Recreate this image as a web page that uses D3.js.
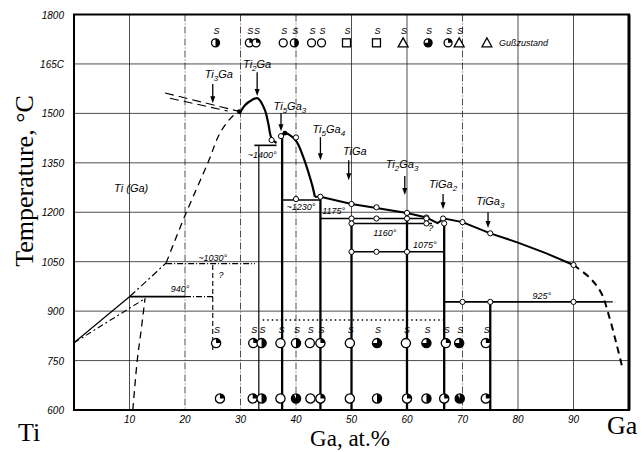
<!DOCTYPE html>
<html>
<head>
<meta charset="utf-8">
<script src="https://cdn.jsdelivr.net/npm/d3@7"></script>
<style>
  body { margin: 0; background: #fff; }
  svg { display: block; }
  .tick-label { font-family: "Liberation Sans", sans-serif; font-style: italic; font-size: 10px; }
  .note { font-family: "Liberation Sans", sans-serif; font-style: italic; font-size: 9px; }
  .phase { font-family: "Liberation Sans", sans-serif; font-style: italic; font-size: 11px; }
  .title { font-family: "Liberation Serif", "Times New Roman", serif; }
</style>
</head>
<body>
<div id="chart"></div>
<script>
// axis ticks
var gaTicks = [10, 20, 30, 40, 50, 60, 70, 80, 90];
var tempTicks = [600, 750, 900, 1050, 1200, 1350, 1500, 1650, 1800];
var tempLabels = ["600", "750", "900", "1050", "1200", "1350", "1500", "165C", "1800"];

// liquidus / phase boundaries, [Ga at.%, T °C]
var liqTi2Ga = [[30,1505],[30.8,1525],[32,1540],[33.1,1546],[34.4,1510],[35,1470],[35.6,1424],[36.5,1410]];
var liqTi5Ga3 = [[37.3,1431],[38,1440],[38.9,1434],[40.1,1414],[41.3,1368],[42.2,1323],[43,1277],[43.4,1247]];
var liqGaSide = [[43.4,1247],[44.4,1247],[50,1225],[54.5,1213],[60,1198],[63.5,1184],[65.5,1167],[66.7,1181],[70,1170],[75,1136],[80,1108],[85,1076],[90,1040]];
var liqGaEnd = [[90,1040],[93,1000],[95,955],[96.6,873],[97.8,797],[98.7,736]];
var betaUpper = [[16.6,1046],[20,1190],[24.2,1353],[26.3,1440],[28.5,1490],[30,1505]];
var betaLower = [[10.1,945],[16.6,1046]];
var transusA = [[0,804],[10.1,945]];
var transusB = [[0,804],[12.8,938]];
var alphaEdge = [[10.6,600],[11.4,751],[12.1,842],[12.8,939]];
var topDashA = [[16.4,1562],[30,1505]];
var topDashB = [[17.3,1546],[27.7,1507]];

// isotherms: [Ga from, Ga to, T]
var isoSolid = [[10.1,20,944],[32.5,36.5,1403],[37.5,44.4,1237],[44.4,63.5,1181],[50,64.5,1166],[50,66.7,1080],[66.7,96,928]];
var isoDashDot = [[20,25.3,944],[16.6,32.6,1044],[96,97.5,928]];
var isoDotted = [[34,66.7,873]];

// compound lines: [Ga, T top, T bottom]
var compThick = [[37.5,1431,600],[44.4,1247,600],[50,1181,600],[60,1198,600],[66.7,1181,600],[75,928,600]];
var compThin = [[33.3,1403,600]];
var compDashed = [[25,1040,780]];

// measured points on the lines
var lineDots = [[35.6,1419],[37.3,1431],[40,1427],[40,1240],[44.4,1247],[50,1225],[54.5,1215],[60,1198],[63.5,1184],[66.5,1181],[70,1170],[75,1136],[90,1040],
  [50,1181],[54.5,1181],[60,1181],[63.5,1181],[50,1166],[63.5,1166],[66.7,1166],[50,1080],[54.5,1080],[60,1080],[70,928],[75,928],[90,928]];
var peakDots = [[38,1440],[29.8,1505]];

// specimen rows
var topGa = [25.5,31.6,32.8,37.7,39.7,42.8,44.6,49.1,54.5,59.3,63.8,67.4,69.4];
var topKind = ["h","q","q","o","h","o","o","sq","sq","tri","f","q","tri"];
var topT = 1714;
var midGa = [25.6,32.3,33.8,37.2,40,42.5,44.4,49.7,54.6,59.8,63.5,67,69.4,74.2];
var midKind = ["q","q","h","o","h","o","q","o","f","o","f","q","f","q"];
var midT = 803;
var botGa = [26.3,32.2,33.8,37.2,40,42.6,44.4,49.7,54.6,60,63.5,66.7,69.5,74.2];
var botKind = ["q","q","h","o","F","o","q","o","h","q","h","q","F","q"];
var botT = 635;

// phase labels with arrows
var phaseName = [["Ti","3","Ga",""],["Ti","2","Ga",""],["Ti","5","Ga","3"],["Ti","5","Ga","4"],["TiGa","","",""],["Ti","2","Ga","3"],["TiGa","","","2"],["TiGa","","","3"]];
var phaseGa = [26.1, 33, 38.9, 45.9, 50.6, 59.1, 66.5, 75];
var phaseT = [1607, 1638, 1510, 1440, 1373, 1334, 1273, 1222];
var arrowGa = [25, 33, 37.3, 44.4, 49.5, 59.6, 66.5, 74.6];
var arrowFrom = [1589, 1625, 1501, 1428, 1358, 1310, 1255, 1200];
var arrowTo = [1531, 1553, 1446, 1358, 1297, 1252, 1209, 1152];

// temperature notes
var noteText = ["~1400°", "~1230°", "1175°", "1160°", "1075°", "925°", "940°", "~1030°", "?", "?"];
var noteGa = [33.9, 40.9, 46.8, 56, 63.2, 84.3, 19.1, 25, 64.3, 26.5];
var noteT = [1364, 1206, 1194, 1127, 1091, 936, 958, 1052, 1143, 1000];

var W = 644, H = 452;
var svg = d3.select("#chart").append("svg")
  .attr("width", W).attr("height", H);

var x = d3.scaleLinear().domain([0, 100]).range([74, 629]);
var y = d3.scaleLinear().domain([600, 1800]).range([410, 14.5]);

// grid
var grid = svg.append("g").attr("stroke", "#222").attr("stroke-width", 0.8);
grid.selectAll("line.v").data(gaTicks).enter().append("line")
  .attr("x1", function(d) { return x(d); }).attr("x2", function(d) { return x(d); })
  .attr("y1", y(1800)).attr("y2", y(600))
  .attr("stroke-dasharray", function(d) { return (d == 20 || d == 30 || d == 40 || d == 70) ? "7,2,1,2" : null; });
grid.selectAll("line.h").data(tempTicks.slice(1, -1)).enter().append("line")
  .attr("x1", x(0)).attr("x2", x(100))
  .attr("y1", function(d) { return y(d); }).attr("y2", function(d) { return y(d); });

// frame
svg.append("rect")
  .attr("x", x(0)).attr("y", y(1800))
  .attr("width", x(100) - x(0)).attr("height", y(600) - y(1800))
  .attr("fill", "none").attr("stroke", "#000").attr("stroke-width", 2);
svg.append("line").attr("x1", x(100)).attr("x2", x(100)).attr("y1", y(1800)).attr("y2", y(600))
  .attr("stroke", "#000").attr("stroke-width", 3);

// tick labels
svg.selectAll("text.yt").data(tempTicks).enter().append("text")
  .attr("class", "tick-label")
  .attr("x", x(0) - 10).attr("y", function(d) { return y(d) + 4; })
  .attr("text-anchor", "end")
  .text(function(d, i) { return tempLabels[i]; });
svg.selectAll("text.xt").data(gaTicks).enter().append("text")
  .attr("class", "tick-label")
  .attr("x", function(d) { return x(d); }).attr("y", 423)
  .attr("text-anchor", "middle")
  .text(function(d) { return d; });

var line = d3.line().x(function(d) { return x(d[0]); }).y(function(d) { return y(d[1]); });
var curve = d3.line().x(function(d) { return x(d[0]); }).y(function(d) { return y(d[1]); }).curve(d3.curveCatmullRom);

function path(data, gen, width, dash) {
  svg.append("path").datum(data)
    .attr("d", gen)
    .attr("fill", "none").attr("stroke", "#000")
    .attr("stroke-width", width)
    .attr("stroke-dasharray", dash || null);
}

path(liqTi2Ga, curve, 2.2);
path(liqTi5Ga3, curve, 2.2);
path(liqGaSide, line, 2);
path(liqGaEnd, curve, 2, "7,5");
path(betaUpper, curve, 1.3, "7,5");
path(betaLower, line, 1.2, "7,3,2,3");
path(transusA, line, 1.2);
path(transusB, line, 1.1, "6,3,2,3");
path(alphaEdge, curve, 1.3, "7,5");
path(topDashA, line, 1.1, "9,5");
path(topDashB, line, 1.1, "9,5");

// isotherms
svg.selectAll("line.iso").data(isoSolid).enter().append("line")
  .attr("x1", function(d) { return x(d[0]); }).attr("x2", function(d) { return x(d[1]); })
  .attr("y1", function(d) { return y(d[2]); }).attr("y2", function(d) { return y(d[2]); })
  .attr("stroke", "#000").attr("stroke-width", 1.6);
svg.selectAll("line.isodd").data(isoDashDot).enter().append("line")
  .attr("x1", function(d) { return x(d[0]); }).attr("x2", function(d) { return x(d[1]); })
  .attr("y1", function(d) { return y(d[2]); }).attr("y2", function(d) { return y(d[2]); })
  .attr("stroke", "#000").attr("stroke-width", 1.1).attr("stroke-dasharray", "6,2,1,2");
svg.selectAll("line.isodot").data(isoDotted).enter().append("line")
  .attr("x1", function(d) { return x(d[0]); }).attr("x2", function(d) { return x(d[1]); })
  .attr("y1", function(d) { return y(d[2]); }).attr("y2", function(d) { return y(d[2]); })
  .attr("stroke", "#000").attr("stroke-width", 1.4).attr("stroke-dasharray", "1.5,3");

// compound verticals
function verticals(data, width, dash) {
  svg.append("g").selectAll("line").data(data).enter().append("line")
    .attr("x1", function(d) { return x(d[0]); }).attr("x2", function(d) { return x(d[0]); })
    .attr("y1", function(d) { return y(d[1]); }).attr("y2", function(d) { return y(d[2]); })
    .attr("stroke", "#000").attr("stroke-width", width)
    .attr("stroke-dasharray", dash || null);
}
verticals(compThick, 2.3);
verticals(compThin, 1.2);
verticals(compDashed, 1.1, "5,3");

// points on lines
svg.selectAll("circle.dot").data(lineDots).enter().append("circle")
  .attr("cx", function(d) { return x(d[0]); }).attr("cy", function(d) { return y(d[1]); })
  .attr("r", 2.6).attr("fill", "#fff").attr("stroke", "#000").attr("stroke-width", 1);
svg.selectAll("circle.peak").data(peakDots).enter().append("circle")
  .attr("cx", function(d) { return x(d[0]); }).attr("cy", function(d) { return y(d[1]); })
  .attr("r", 2.4).attr("fill", "#000");

// specimen symbols
var arc = d3.arc().innerRadius(0);
var share = { q: Math.PI / 2, h: Math.PI, f: Math.PI * 1.5, F: Math.PI * 1.85 };
function specimens(gas, kinds, t, r, withS) {
  var g = svg.append("g");
  gas.forEach(function(ga, i) {
    var cx = x(ga), cy = y(t), k = kinds[i];
    var s = g.append("g").attr("transform", "translate(" + cx + "," + cy + ")");
    if (k == "sq") {
      s.append("rect").attr("x", -r).attr("y", -r).attr("width", 2 * r).attr("height", 2 * r)
        .attr("fill", "#fff").attr("stroke", "#000").attr("stroke-width", 1.3);
    } else if (k == "tri") {
      s.append("path").attr("d", "M0," + (-r - 1) + "L" + (r + 1) + "," + r + "L" + (-r - 1) + "," + r + "Z")
        .attr("fill", "#fff").attr("stroke", "#000").attr("stroke-width", 1.3);
    } else {
      s.append("circle").attr("r", r).attr("fill", "#fff").attr("stroke", "#000").attr("stroke-width", 1.3);
      if (share[k]) {
        s.append("path").attr("d", arc({ outerRadius: r, startAngle: 0, endAngle: share[k] })).attr("fill", "#000");
      }
    }
    if (withS) {
      g.append("text").attr("class", "note").attr("x", cx + 1).attr("y", cy - r - 5)
        .attr("text-anchor", "middle").text("S");
    }
  });
}
specimens(topGa, topKind, topT, 4, true);
specimens(midGa, midKind, midT, 4.6, true);
specimens(botGa, botKind, botT, 4.6, false);

// legend
var lg = svg.append("g").attr("transform", "translate(" + x(74.4) + "," + y(topT) + ")");
lg.append("path").attr("d", "M0,-5L5,4L-5,4Z").attr("fill", "#fff").attr("stroke", "#000").attr("stroke-width", 1.2);
lg.append("text").attr("class", "note").attr("x", 12).attr("y", 3).text("Gußzustand");

// phase labels and arrows
phaseName.forEach(function(p, i) {
  var t = svg.append("text").attr("class", "phase")
    .attr("x", x(phaseGa[i])).attr("y", y(phaseT[i])).attr("text-anchor", "middle");
  t.append("tspan").text(p[0]);
  if (p[1]) t.append("tspan").attr("dy", 3).attr("font-size", "8px").text(p[1]);
  if (p[2]) t.append("tspan").attr("dy", p[1] ? -3 : 0).text(p[2]);
  if (p[3]) t.append("tspan").attr("dy", 3).attr("font-size", "8px").text(p[3]);

  var ax = x(arrowGa[i]), y0 = y(arrowFrom[i]), y1 = y(arrowTo[i]);
  svg.append("line").attr("x1", ax).attr("x2", ax).attr("y1", y0).attr("y2", y1 - 5)
    .attr("stroke", "#000").attr("stroke-width", 1.3);
  svg.append("path").attr("d", "M" + (ax - 2.5) + "," + (y1 - 7) + "L" + (ax + 2.5) + "," + (y1 - 7) + "L" + ax + "," + y1 + "Z")
    .attr("fill", "#000");
});

svg.append("text").attr("class", "phase").attr("x", x(10.3)).attr("y", y(1261))
  .attr("text-anchor", "middle").text("Ti (Ga)");

// temperature notes
noteText.forEach(function(n, i) {
  svg.append("text").attr("class", "note")
    .attr("x", x(noteGa[i])).attr("y", y(noteT[i]))
    .attr("text-anchor", "middle").text(n);
});

// titles
svg.append("text").attr("class", "title")
  .attr("transform", "translate(33,181) rotate(-90)")
  .attr("text-anchor", "middle").attr("font-size", "26px")
  .text("Temperature, °C");
svg.append("text").attr("class", "title")
  .attr("x", 350).attr("y", 446).attr("text-anchor", "middle").attr("font-size", "23px")
  .text("Ga, at.%");
svg.append("text").attr("class", "title")
  .attr("x", 18).attr("y", 441).attr("font-size", "26px").text("Ti");
svg.append("text").attr("class", "title")
  .attr("x", 607).attr("y", 434).attr("font-size", "26px").text("Ga");
</script>
</body>
</html>
